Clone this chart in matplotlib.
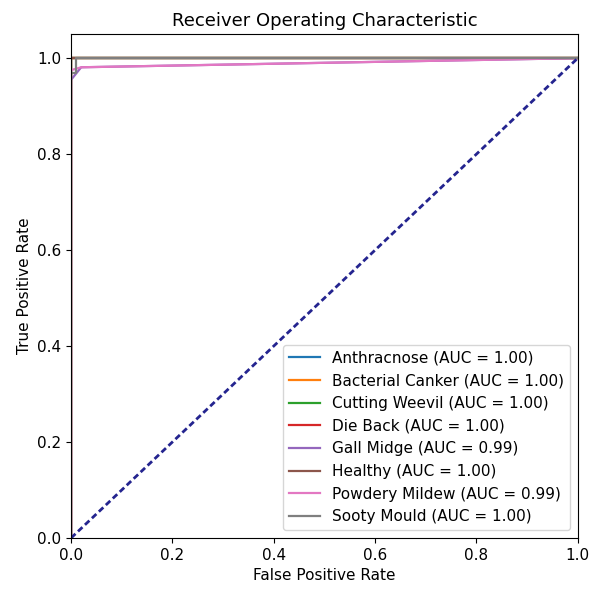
import matplotlib
matplotlib.use('agg')
import matplotlib.pyplot as plt

classes = ['Anthracnose', 'Bacterial Canker', 'Cutting Weevil', 'Die Back',
           'Gall Midge', 'Healthy', 'Powdery Mildew', 'Sooty Mould']
aucs = [1.00, 1.00, 1.00, 1.00, 0.99, 1.00, 0.99, 1.00]

# ROC points per class
fpr = {
    'Anthracnose': [0.0, 0.0, 1.0],
    'Bacterial Canker': [0.0, 0.0, 1.0],
    'Cutting Weevil': [0.0, 0.0, 1.0],
    'Die Back': [0.0, 0.0, 1.0],
    'Gall Midge': [0.0, 0.0, 0.004, 0.02, 1.0],
    'Healthy': [0.0, 0.0, 1.0],
    'Powdery Mildew': [0.0, 0.0, 0.02, 1.0],
    'Sooty Mould': [0.0, 0.0, 0.009, 0.009, 1.0],
}
tpr = {
    'Anthracnose': [0.0, 1.0, 1.0],
    'Bacterial Canker': [0.0, 1.0, 1.0],
    'Cutting Weevil': [0.0, 1.0, 1.0],
    'Die Back': [0.0, 1.0, 1.0],
    'Gall Midge': [0.0, 0.955, 0.96, 0.981, 1.0],
    'Healthy': [0.0, 1.0, 1.0],
    'Powdery Mildew': [0.0, 0.975, 0.981, 1.0],
    'Sooty Mould': [0.0, 0.97, 0.97, 1.0, 1.0],
}

plt.rcParams['font.size'] = 11
plt.rcParams['lines.linewidth'] = 1.6

fig = plt.figure(figsize=(5.92, 5.89), dpi=100)
fig.subplots_adjust(left=0.12, right=0.976, top=0.942, bottom=0.0866)
ax = fig.add_subplot(111)

for name, auc in zip(classes, aucs):
    ax.plot(fpr[name], tpr[name], label=f'{name} (AUC = {auc:.2f})')

# chance line
ax.plot([0, 1], [0, 1], color='#24248f', lw=2, linestyle=(0, (2.2, 1.25)))
ax.set_xlim(0.0, 1.0)
ax.set_ylim(0.0, 1.05)
ax.set_xlabel('False Positive Rate')
ax.set_ylabel('True Positive Rate')
ax.set_title('Receiver Operating Characteristic', fontsize=13)
ax.legend(loc='lower right')

plt.savefig('out.png')
